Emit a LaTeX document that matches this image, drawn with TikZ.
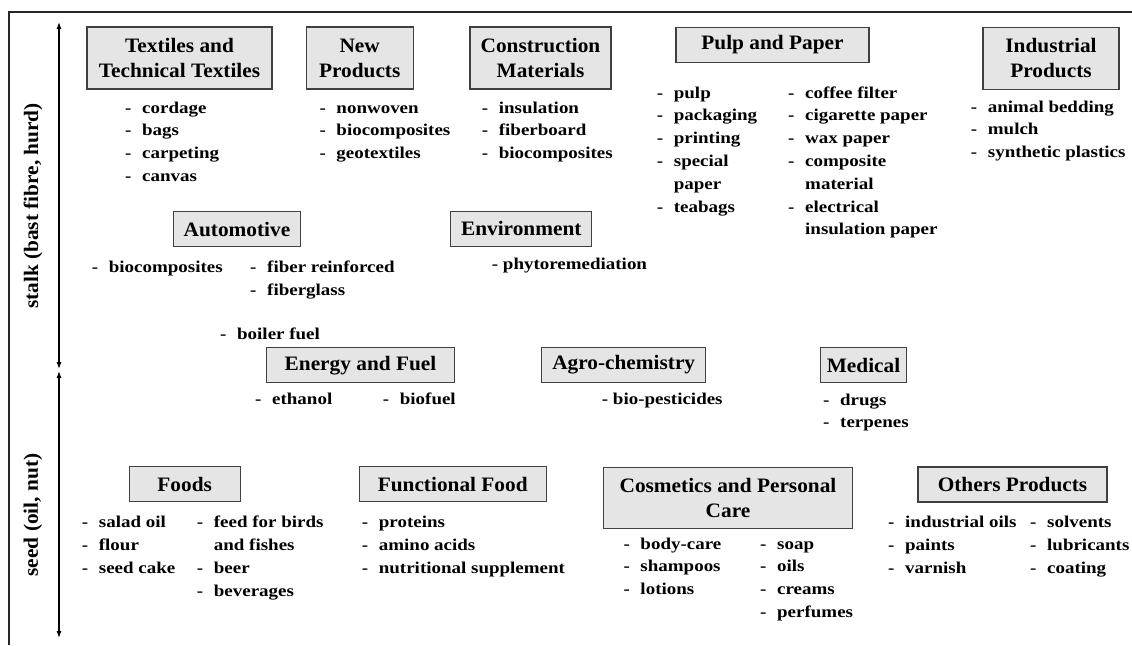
\documentclass[tikz,border=0pt]{standalone}
\usepackage{fontspec}
\setmainfont{Liberation Serif}
\newfontfamily\headfont{Liberation Serif}[FakeStretch=1.04]
\newfontfamily\listfont{Liberation Serif}[FakeStretch=1.15]
\usepackage{tikz}
\usetikzlibrary{%
  calc,%
  arrows.meta%
}
\newcommand{\itm}[1]{\strut\makebox[17pt][l]{-}#1}
\newcommand{\cont}[1]{\strut\hspace{17pt}#1}
\tikzset{
  cat/.style={draw=black!75, fill=black!10, line width=1.1pt, align=center,
    inner sep=0pt, minimum height=35pt,
    font=\headfont\bfseries\fontsize{20.5}{25}\selectfont},
  cattwo/.style={cat, minimum height=62pt},
  lst/.style={anchor=north west, inner sep=0pt, align=left,
    font=\listfont\bfseries\fontsize{16.5}{22.8}\selectfont},
  axislabel/.style={rotate=90, font=\headfont\bfseries\fontsize{20.5}{25}\selectfont}
}

\begin{document}
\begin{tikzpicture}[x=1pt,y=-1pt,>={Latex[length=7pt,width=5pt]}]
\useasboundingbox (0,0) rectangle (1132,645);
\draw[line width=2pt, black!85] (1132,12) -- (9,12) -- (9,645);

\coordinate (stalktop) at (59,22);
\coordinate (stalkbot) at (59,369);
\coordinate (seedtop) at (59,371);
\coordinate (seedbot) at (59,638);
\draw[<->, line width=1.1pt] (stalktop) -- (stalkbot);
\draw[<->, line width=1.1pt] (seedtop) -- (seedbot);
\node[axislabel] (stalk) at (33,206) {stalk (bast fibre, hurd)};
\node[axislabel] (seed) at (33,515) {seed (oil, nut)};

% stalk
\node[cattwo, minimum width=185pt] (textiles) at (179.5,58) {Textiles and\\Technical Textiles};
\node[lst] (textilesl) at (125,97) {\itm{cordage}\\\itm{bags}\\\itm{carpeting}\\\itm{canvas}};

\node[cattwo, minimum width=107pt] (newprod) at (359.7,58) {New\\Products};
\node[lst] (newprodl) at (319.3,97) {\itm{nonwoven}\\\itm{biocomposites}\\\itm{geotextiles}};

\node[cattwo, minimum width=141pt] (constr) at (540.5,58) {Construction\\Materials};
\node[lst] (constrl) at (481.7,97) {\itm{insulation}\\\itm{fiberboard}\\\itm{biocomposites}};

\node[cat, minimum width=193pt] (pulp) at (772.5,44.7) {Pulp and Paper};
\node[lst] (pulpl) at (656.7,82) {\itm{pulp}\\\itm{packaging}\\\itm{printing}\\\itm{special}\\\cont{paper}\\\itm{teabags}};
\node[lst] (pulpr) at (788,82) {\itm{coffee filter}\\\itm{cigarette paper}\\\itm{wax paper}\\\itm{composite}\\\cont{material}\\\itm{electrical}\\\cont{insulation paper}};

\node[cattwo, minimum width=136pt] (indus) at (1051,58.3) {Industrial\\Products};
\node[lst] (indusl) at (970.7,96) {\itm{animal bedding}\\\itm{mulch}\\\itm{synthetic plastics}};

\node[cat, minimum width=127pt] (auto) at (237,229.2) {Automotive};
\node[lst] (autol) at (91.7,256.5) {\itm{biocomposites}};
\node[lst] (autor) at (250,256.5) {\itm{fiber reinforced}\\\itm{fiberglass}};

\node[cat, minimum width=141pt] (envir) at (521.3,228.8) {Environment};
\node[lst] (envirl) at (491.7,253) {\strut- phytoremediation};

% stalk and seed
\node[lst] (boiler) at (220,323) {\itm{boiler fuel}};
\node[cat, minimum width=188pt] (energy) at (360.5,365.2) {Energy and Fuel};
\node[lst] (energyl) at (255,388) {\itm{ethanol}};
\node[lst] (energyr) at (382.7,388) {\itm{biofuel}};

\node[cat, minimum width=164pt] (agro) at (623.7,365) {Agro-chemistry};
\node[lst] (agrol) at (601.7,388) {\strut- bio-pesticides};

\node[cat, minimum width=86pt] (medic) at (863.5,365) {Medical};
\node[lst] (medicl) at (823,389) {\itm{drugs}\\\itm{terpenes}};

% seed
\node[cat, minimum width=111pt] (foods) at (184.7,484.2) {Foods};
\node[lst] (foodsl) at (81.7,511.5) {\itm{salad oil}\\\itm{flour}\\\itm{seed cake}};
\node[lst] (foodsr) at (196.7,511.5) {\itm{feed for birds}\\\cont{and fishes}\\\itm{beer}\\\itm{beverages}};

\node[cat, minimum width=187pt] (funct) at (452.7,484.2) {Functional Food};
\node[lst] (functl) at (361.7,511.5) {\itm{proteins}\\\itm{amino acids}\\\itm{nutritional supplement}};

\node[cattwo, minimum height=61pt, minimum width=249pt] (cosm) at (728,497.8) {Cosmetics and Personal\\Care};
\node[lst] (cosml) at (623.3,533) {\itm{body-care}\\\itm{shampoos}\\\itm{lotions}};
\node[lst] (cosmr) at (760,533) {\itm{soap}\\\itm{oils}\\\itm{creams}\\\itm{perfumes}};

\node[cat, minimum width=189pt] (others) at (1012.5,484.5) {Others Products};
\node[lst] (othersl) at (888,511.5) {\itm{industrial oils}\\\itm{paints}\\\itm{varnish}};
\node[lst] (othersr) at (1030,511.5) {\itm{solvents}\\\itm{lubricants}\\\itm{coating}};
\end{tikzpicture}
\end{document}
